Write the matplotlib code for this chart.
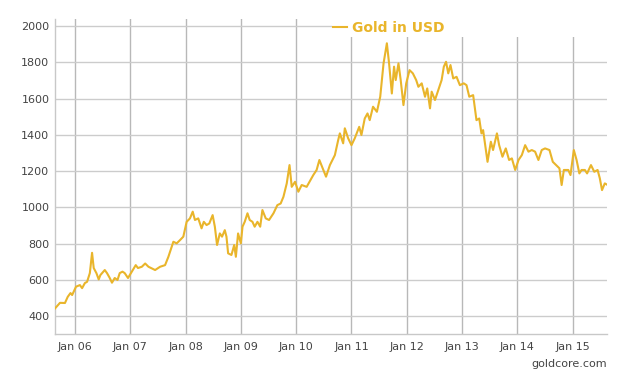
"""
Gold price in USD, weekly-ish readings Aug 2005 - Aug 2015 (goldcore.com style).
"""

import matplotlib
matplotlib.use("Agg")
import matplotlib.pyplot as plt
from matplotlib.patches import Rectangle

# ── Data (decimal year, USD / oz) ───────────────────────────────────────────
years = [
    2005.64, 2005.73, 2005.82, 2005.87, 2005.92, 2005.95, 2006.02, 2006.09,
    2006.13, 2006.18, 2006.22, 2006.27, 2006.31, 2006.34, 2006.39, 2006.43,
    2006.46, 2006.54, 2006.58, 2006.63, 2006.67, 2006.72, 2006.77, 2006.81,
    2006.86, 2006.90, 2006.96, 2007.03, 2007.10, 2007.14, 2007.21, 2007.27,
    2007.33, 2007.39, 2007.45, 2007.54, 2007.63, 2007.69, 2007.78, 2007.84,
    2007.90, 2007.96, 2008.02, 2008.08, 2008.13, 2008.17, 2008.23, 2008.29,
    2008.33, 2008.38, 2008.43, 2008.49, 2008.53, 2008.57, 2008.62, 2008.66,
    2008.71, 2008.74, 2008.77, 2008.83, 2008.88, 2008.91, 2008.95, 2009.00,
    2009.03, 2009.07, 2009.12, 2009.16, 2009.21, 2009.25, 2009.30, 2009.35,
    2009.39, 2009.45, 2009.51, 2009.59, 2009.66, 2009.72, 2009.77, 2009.83,
    2009.88, 2009.92, 2009.98, 2010.04, 2010.10, 2010.19, 2010.31, 2010.37,
    2010.42, 2010.48, 2010.54, 2010.61, 2010.70, 2010.76, 2010.79, 2010.85,
    2010.88, 2010.94, 2011.00, 2011.06, 2011.14, 2011.18, 2011.24, 2011.29,
    2011.33, 2011.39, 2011.46, 2011.52, 2011.58, 2011.64, 2011.68, 2011.73,
    2011.77, 2011.80, 2011.85, 2011.89, 2011.94, 2011.99, 2012.05, 2012.11,
    2012.17, 2012.21, 2012.27, 2012.33, 2012.37, 2012.42, 2012.45, 2012.51,
    2012.57, 2012.63, 2012.67, 2012.71, 2012.75, 2012.79, 2012.84, 2012.90,
    2012.96, 2013.03, 2013.08, 2013.13, 2013.20, 2013.26, 2013.31, 2013.35,
    2013.38, 2013.46, 2013.52, 2013.56, 2013.63, 2013.67, 2013.73, 2013.79,
    2013.85, 2013.90, 2013.96, 2014.02, 2014.08, 2014.14, 2014.20, 2014.26,
    2014.32, 2014.38, 2014.44, 2014.50, 2014.58, 2014.64, 2014.70, 2014.76,
    2014.80, 2014.84, 2014.92, 2014.96, 2015.02, 2015.07, 2015.12, 2015.16,
    2015.22, 2015.26, 2015.33, 2015.39, 2015.45, 2015.49, 2015.53, 2015.58,
    2015.62,
]
prices = [
    442, 473, 472, 506, 527, 516, 562, 571,
    554, 582, 589, 637, 749, 665, 636, 602,
    626, 654, 637, 610, 584, 610, 599, 637,
    645, 637, 610, 645, 681, 665, 672, 690,
    672, 663, 654, 672, 681, 727, 810, 801,
    819, 838, 920, 939, 976, 930, 939, 884,
    920, 902, 911, 957, 893, 792, 856, 838,
    874, 838, 746, 737, 792, 727, 856, 801,
    893, 920, 967, 930, 920, 893, 920, 893,
    985, 939, 930, 967, 1012, 1021, 1058, 1132,
    1233, 1113, 1141, 1086, 1123, 1113, 1178, 1206,
    1261, 1215, 1169, 1233, 1288, 1371, 1408, 1353,
    1436, 1381, 1343, 1381, 1444, 1399, 1490, 1518,
    1481, 1555, 1527, 1610, 1794, 1905, 1794, 1628,
    1776, 1702, 1794, 1702, 1564, 1684, 1757, 1739,
    1702, 1665, 1684, 1610, 1656, 1546, 1638, 1592,
    1647, 1702, 1776, 1803, 1739, 1785, 1711, 1720,
    1674, 1684, 1674, 1610, 1619, 1481, 1490, 1408,
    1426, 1251, 1362, 1316, 1408, 1343, 1279, 1325,
    1261, 1270, 1206, 1261, 1288, 1343, 1307, 1316,
    1307, 1261, 1316, 1325, 1316, 1251, 1233, 1215,
    1123, 1206, 1206, 1178, 1316, 1261, 1187, 1206,
    1206, 1187, 1233, 1196, 1206, 1160, 1095, 1132,
    1125,
]

tick_years = [2006, 2007, 2008, 2009, 2010, 2011, 2012, 2013, 2014, 2015]
tick_labels = ["Jan 06", "Jan 07", "Jan 08", "Jan 09", "Jan 10",
               "Jan 11", "Jan 12", "Jan 13", "Jan 14", "Jan 15"]
y_ticks = [400, 600, 800, 1000, 1200, 1400, 1600, 1800, 2000]

GOLD = "#E9B52B"
TEXT = "#444444"

fig = plt.figure(figsize=(6.28, 3.76), dpi=100)
fig.patch.set_facecolor("white")
ax = fig.add_axes([55 / 628, 42 / 376, 552 / 628, 315 / 376])

ax.plot(years, prices, color=GOLD, linewidth=1.5, zorder=3, label="Gold in USD")

ax.set_xlim(2005.64, 2015.62)
ax.set_ylim(301, 2039)
ax.set_xticks(tick_years)
ax.set_xticklabels(tick_labels)
ax.set_yticks(y_ticks)

ax.set_axisbelow(True)
ax.grid(axis="y", color="#cccccc", linewidth=1.0)
ax.grid(axis="x", color="#b8b8b8", linewidth=1.0)

for side in ("top", "right"):
    ax.spines[side].set_visible(False)
for side in ("left", "bottom"):
    ax.spines[side].set_color("#c8c8c8")
    ax.spines[side].set_linewidth(1.0)

ax.tick_params(length=0, labelsize=8, colors=TEXT)
ax.tick_params(axis="y", pad=4)
ax.tick_params(axis="x", pad=6)

# white legend band covering the top grid, like the original
ax.add_patch(Rectangle((0.502, 0.943), 0.5, 0.06, transform=ax.transAxes,
                       facecolor="white", edgecolor="none", zorder=1,
                       clip_on=False))
leg = ax.legend(loc="center left", bbox_to_anchor=(0.503, 0.971),
                frameon=False, handlelength=1.0, handletextpad=0.4,
                borderpad=0, borderaxespad=0,
                prop={"size": 10, "weight": "bold"})
for t in leg.get_texts():
    t.set_color(GOLD)

fig.text(607 / 628, 1 - 364 / 376, "goldcore.com", ha="right", va="center",
         fontsize=8, color=TEXT)

fig.savefig("out.png", dpi=100, facecolor="white")
